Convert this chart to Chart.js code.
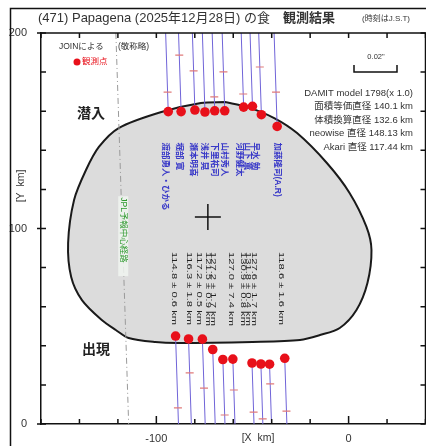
<!DOCTYPE html>
<html>
<head>
<meta charset="utf-8">
<script src="https://cdn.jsdelivr.net/npm/chart.js@4.4.1/dist/chart.umd.min.js"></script>
<style>
html, body { margin: 0; padding: 0; background: #fff; overflow: hidden; }
#wrap { width: 440px; height: 446px; }
</style>
</head>
<body>
<div id="wrap"><canvas id="occ" width="440" height="446"></canvas></div>
<script>
// (471) Papagena occultation, 2025-12-28 - observed chords (km)
const chordX0 = [-88.5, -81.8, -74.6, -69.4, -64.3, -59.1, -49.2, -44.6, -40.1, -32.1]; // chord X at Y = 0
const trackSlope = -0.0333;                                                              // dX/dY of the shadow track
const disappearY = [159.8, 159.8, 160.6, 159.6, 160.2, 160.2, 162.1, 162.5, 158.2, 152.2];
const reappearY  = [45.0, 43.5, 43.4, 38.1, 33.0, 33.2, 31.2, 30.7, 30.6, 33.6];
const topMarkY   = [169.8, 188.7, 180.6, null, 167.3, 180.1, 168.8, null, 182.6, 169.8];
const bottomMarkY = [8.2, 26.1, 18.4, null, 4.6, 17.4, 6.1, 2.6, 20.5, 6.6];
const chordLengths = ['114.8 ± 0.6 km', '116.3 ± 1.8 km', '117.2 ± 0.5 km', '121.5 ± 0.9 km', '127.2 ± 1.7 km',
                      '127.0 ± 7.4 km', '130.9 ± 0.8 km', '131.8 ± 0.4 km', '127.6 ± 1.7 km', '118.6 ± 1.6 km'];
const observers = ['渡部勇人・ひかる', '堀部 寛', '瀬本明喜', '浅井 晃', '下里祐司', '山村秀人',
                   '河野健太', '山下 薫', '早水 勉', '加藤隆司(A.R)'];

// DAMIT model outline (km)
const outlineX = [-64.4, -52.6, -38.7, -26.8, -11.3, 0.5, 9.3, 11.9, 9.8, 4.1, -4.6, -14.9, -25.3, -50.0, -88.7,
                  -100.5, -114.4, -121.1, -128.4, -138.7, -144.3, -145.9, -142.8, -136.6, -129.9, -119.6, -97.4, -76.8, -64.4];
const outlineY = [164.7, 162.1, 156.5, 148.8, 133.5, 118.2, 100.8, 89.0, 72.1, 58.3, 49.1, 45.5, 43.0, 42.0, 41.4,
                  41.9, 44.0, 48.1, 53.2, 63.4, 75.2, 92.6, 114.6, 129.9, 141.7, 151.4, 159.6, 164.2, 164.7];
const centerX = -73.2, centerY = 105.9;
const jplX0 = -114.4;   // JPL predicted centre line at Y = 0

const xTicks = [-160, -140, -120, -100, -80, -60, -40, -20, 0, 20, 40];
const yTicks = [0, 20, 40, 60, 80, 100, 120, 140, 160, 180, 200];

const infoLines = ['DAMIT model 1798(x 1.0)', '面積等価直径 140.1 km', '体積換算直径 132.6 km',
                   'neowise 直径 148.13 km', 'Akari 直径 117.44 km'];

// label nudges in px (layout only)
const nameDx = [-4, -3, -3, -2, -1, -1, -5, -6, -7, 0];
const lengthDx = [1, 3, 0, -1, -6, 2, -5, -9, -12, 0];

const JP = '"Liberation Sans", "Noto Sans CJK JP", sans-serif';

function chordX(i, y) { return chordX0[i] + trackSlope * y; }

const chordPts = [];
chordX0.forEach((x0, i) => {
    chordPts.push({ x: chordX(i, 200), y: 200 }, { x: chordX(i, disappearY[i]), y: disappearY[i] }, { x: null, y: null });
    chordPts.push({ x: chordX(i, reappearY[i]), y: reappearY[i] }, { x: chordX(i, 0), y: 0 }, { x: null, y: null });
});
const dotPts = [];
chordX0.forEach((x0, i) => {
    dotPts.push({ x: chordX(i, disappearY[i]), y: disappearY[i] });
    dotPts.push({ x: chordX(i, reappearY[i]), y: reappearY[i] });
});
const markPts = [];
chordX0.forEach((x0, i) => {
    if (topMarkY[i] != null) markPts.push({ x: chordX(i, topMarkY[i]), y: topMarkY[i] });
    if (bottomMarkY[i] != null) markPts.push({ x: chordX(i, bottomMarkY[i]), y: bottomMarkY[i] });
});
const outlinePts = outlineX.map((x, i) => ({ x: x, y: outlineY[i] }));

// rotated text, reading top to bottom; sx stretches along the text
function vtext(ctx, str, x, y, font, color, sx) {
    ctx.save();
    ctx.translate(x, y);
    ctx.rotate(Math.PI / 2);
    ctx.scale(sx || 1, 1);
    ctx.font = font;
    ctx.fillStyle = color;
    ctx.textAlign = 'left';
    ctx.textBaseline = 'middle';
    ctx.fillText(str, 0, 0);
    ctx.restore();
}

const decorations = {
    id: 'decorations',
    afterDraw(chart) {
        const ctx = chart.ctx;
        const xs = chart.scales.x, ys = chart.scales.y;
        const a = chart.chartArea;

        ctx.save();
        // top and right axis lines
        ctx.strokeStyle = '#111';
        ctx.lineWidth = 1.5;
        ctx.beginPath();
        ctx.moveTo(a.left, a.top); ctx.lineTo(a.right, a.top); ctx.lineTo(a.right, a.bottom);
        ctx.stroke();

        // inward ticks
        xTicks.forEach(v => {
            const px = xs.getPixelForValue(v);
            const len = v % 100 === 0 ? 8 : 5;
            ctx.beginPath();
            ctx.moveTo(px, a.bottom); ctx.lineTo(px, a.bottom - len);
            ctx.moveTo(px, a.top); ctx.lineTo(px, a.top + 5);
            ctx.stroke();
        });
        yTicks.forEach(v => {
            const py = ys.getPixelForValue(v);
            const out = v % 100 === 0 ? 4 : 0;
            ctx.beginPath();
            ctx.moveTo(a.left - out, py); ctx.lineTo(a.left + 5, py);
            ctx.moveTo(a.right, py); ctx.lineTo(a.right - 5, py);
            ctx.stroke();
        });

        // outer frame
        ctx.strokeRect(10.5, 8.5, 440, 450);

        // title
        ctx.fillStyle = '#333';
        ctx.textBaseline = 'middle';
        ctx.textAlign = 'left';
        ctx.font = '13px ' + JP;
        ctx.fillText('(471) Papagena (2025年12月28日) の食', 38, 18);
        ctx.font = 'bold 13px ' + JP;
        ctx.fillText('観測結果', 283, 18);
        ctx.font = '8px ' + JP;
        ctx.fillText('(時刻はJ.S.T)', 362, 19);

        // legend
        ctx.font = '8.5px ' + JP;
        ctx.fillStyle = '#333';
        ctx.fillText('JOINによる', 59, 47);
        ctx.fillText('(敬称略)', 118, 47);
        ctx.fillStyle = '#e8101a';
        ctx.beginPath(); ctx.arc(77, 62, 3.5, 0, Math.PI * 2); ctx.fill();
        ctx.fillText('観測点', 82, 62);

        // phase labels
        ctx.fillStyle = '#222';
        ctx.font = 'bold 14px ' + JP;
        ctx.fillText('潜入', 77, 114);
        ctx.fillText('出現', 82, 350);

        // scale bar
        ctx.strokeStyle = '#111';
        ctx.lineWidth = 1.5;
        ctx.beginPath();
        ctx.moveTo(354, 65); ctx.lineTo(354, 72); ctx.lineTo(397, 72); ctx.lineTo(397, 65);
        ctx.stroke();
        ctx.fillStyle = '#333';
        ctx.font = '7.5px ' + JP;
        ctx.textAlign = 'center';
        ctx.fillText('0.02"', 376, 57);

        // model info
        ctx.textAlign = 'right';
        ctx.font = '9.5px ' + JP;
        infoLines.forEach((t, i) => ctx.fillText(t, 413, 93 + i * 13.5));

        // axis titles
        ctx.textAlign = 'center';
        ctx.font = '10.5px ' + JP;
        ctx.fillText('[X  km]', 258, 438);
        ctx.save();
        ctx.translate(21, 186);
        ctx.rotate(-Math.PI / 2);
        ctx.fillText('[Y  km]', 0, 0);
        ctx.restore();

        // JPL label on a light patch
        const jy = 116;
        const jx = xs.getPixelForValue(jplX0 + trackSlope * jy) + 2, jpy = ys.getPixelForValue(jy);
        ctx.fillStyle = 'rgba(240,244,240,0.85)';
        ctx.fillRect(jx - 5, jpy - 1, 10, 80);
        vtext(ctx, 'JPL予報中心経路', jx, jpy, '8.5px ' + JP, '#2f9a2f');

        // observer names and chord lengths
        observers.forEach((n, i) => {
            const yv = 144;
            vtext(ctx, n, xs.getPixelForValue(chordX(i, yv)) + nameDx[i], ys.getPixelForValue(yv),
                  'bold 8.5px ' + JP, '#3a3ac8');
        });
        chordLengths.forEach((t, i) => {
            const yv = 88;
            vtext(ctx, t, xs.getPixelForValue(chordX(i, yv)) + lengthDx[i], ys.getPixelForValue(yv),
                  '8px ' + JP, '#222', 1.4);
        });
        ctx.restore();
    }
};

new Chart(document.getElementById('occ'), {
    type: 'scatter',
    data: {
        datasets: [
            { label: 'dots', data: dotPts, order: 0, pointRadius: 4.8, pointBackgroundColor: '#e8101a', pointBorderWidth: 0 },
            { label: 'marks', data: markPts, order: 1, pointStyle: 'line', pointRadius: 4, pointBorderColor: '#e07a7a', pointBorderWidth: 1.2 },
            { label: 'chords', data: chordPts, order: 2, showLine: true, spanGaps: false, borderColor: '#7064d8', borderWidth: 1, pointRadius: 0 },
            { label: 'center', data: [{ x: centerX, y: centerY }], order: 3, pointStyle: 'cross', pointRadius: 13, pointBorderColor: '#111', pointBorderWidth: 1.5 },
            { label: 'jpl', data: [{ x: jplX0 + trackSlope * 200, y: 200 }, { x: jplX0, y: 0 }], order: 4, showLine: true,
              borderColor: '#9a9a9a', borderWidth: 1, borderDash: [6, 3, 1, 3], pointRadius: 0 },
            { label: 'body', data: outlinePts, order: 5, showLine: true, fill: 'shape', tension: 0.3,
              backgroundColor: '#dcdcdc', borderColor: '#1a1a1a', borderWidth: 2, pointRadius: 0 }
        ]
    },
    options: {
        responsive: false,
        animation: false,
        devicePixelRatio: 1,
        layout: { padding: { left: 0, top: 33, right: 11, bottom: 0 } },
        plugins: { legend: { display: false }, tooltip: { enabled: false } },
        scales: {
            x: {
                type: 'linear', min: -160, max: 40,
                grid: { display: false },
                border: { display: true, color: '#111', width: 1.5 },
                ticks: { stepSize: 20, autoSkip: false, maxRotation: 0, padding: 0, color: '#333',
                         font: { size: 11, family: 'Liberation Sans' },
                         callback: v => (v % 100 === 0 && v > -160 ? String(v) : '') },
                afterFit: s => { s.height = 22; }
            },
            y: {
                type: 'linear', min: 0, max: 200,
                grid: { display: false },
                border: { display: true, color: '#111', width: 1.5 },
                ticks: { stepSize: 20, autoSkip: false, padding: 6, color: '#333',
                         font: { size: 11, family: 'Liberation Sans' },
                         callback: v => (v % 100 === 0 ? String(v) : '') },
                afterFit: s => { s.width = 41; }
            }
        }
    },
    plugins: [decorations]
});
</script>
</body>
</html>
